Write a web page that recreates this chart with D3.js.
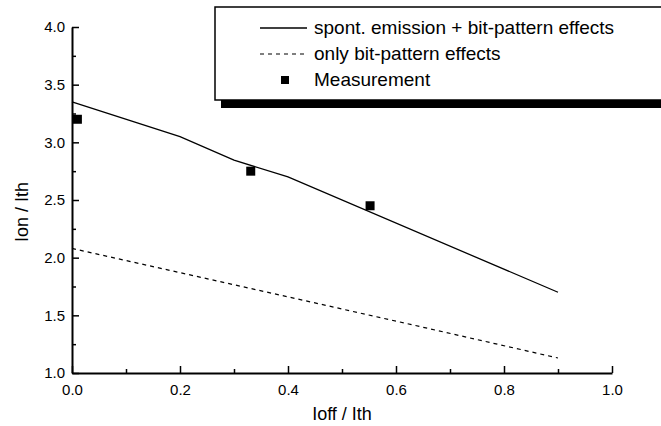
<!DOCTYPE html>
<html>
<head>
<meta charset="utf-8">
<script src="https://cdn.jsdelivr.net/npm/d3@7"></script>
<style>
  body { margin: 0; background: #fff; }
  svg { font-family: "Liberation Sans", Arial, sans-serif; }
</style>
</head>
<body>
<div id="chart"></div>
<script>
// Data
const spontX = [0, 0.2, 0.3, 0.4, 0.9];
const spontY = [3.35, 3.05, 2.845, 2.70, 1.70];
const bitX = [0, 0.2, 0.4, 0.6, 0.9];
const bitY = [2.08, 1.87, 1.66, 1.45, 1.13];
const measX = [0.01, 0.331, 0.552];
const measY = [3.20, 2.75, 2.45];
const xTicks = [0, 0.2, 0.4, 0.6, 0.8, 1.0];
const yTicks = [1.0, 1.5, 2.0, 2.5, 3.0, 3.5, 4.0];
const legendLabels = ["spont. emission + bit-pattern effects", "only bit-pattern effects", "Measurement"];

const width = 661, height = 426;
const margin = {top: 27, right: 49, bottom: 53, left: 72};

const svg = d3.select("#chart").append("svg")
    .attr("width", width)
    .attr("height", height);

// Scales
const xScale = d3.scaleLinear().domain([0, 1]).range([margin.left, width - margin.right]);
const yScale = d3.scaleLinear().domain([1, 4]).range([height - margin.bottom, margin.top]);

// Minor ticks (inward)
svg.append("g")
    .attr("transform", "translate(0," + (height - margin.bottom) + ")")
    .call(d3.axisBottom(xScale).tickValues(d3.range(0.1, 1, 0.2)).tickSize(-4).tickFormat(""))
    .call(g => g.select(".domain").remove())
    .selectAll("line").attr("stroke-width", 1.5);
svg.append("g")
    .attr("transform", "translate(" + margin.left + ",0)")
    .call(d3.axisLeft(yScale).tickValues(d3.range(1.25, 4, 0.5)).tickSize(-4).tickFormat(""))
    .call(g => g.select(".domain").remove())
    .selectAll("line").attr("stroke-width", 1.5);

// X axis
const xAxis = svg.append("g")
    .attr("transform", "translate(0," + (height - margin.bottom) + ")")
    .call(d3.axisBottom(xScale).tickValues(xTicks).tickSize(-7).tickSizeOuter(0).tickPadding(11).tickFormat(d3.format(".1f")));
xAxis.select(".domain").attr("stroke-width", 2);
xAxis.selectAll(".tick line").attr("stroke-width", 1.5);
xAxis.selectAll("text").attr("font-size", 15).attr("font-family", "Liberation Sans, Arial, sans-serif");

// Y axis
const yAxis = svg.append("g")
    .attr("transform", "translate(" + margin.left + ",0)")
    .call(d3.axisLeft(yScale).tickValues(yTicks).tickSize(-7).tickSizeOuter(0).tickPadding(7).tickFormat(d3.format(".1f")));
yAxis.select(".domain").attr("stroke-width", 2);
yAxis.selectAll(".tick line").attr("stroke-width", 1.5);
yAxis.selectAll("text").attr("font-size", 15).attr("font-family", "Liberation Sans, Arial, sans-serif");

// Axis titles
svg.append("text")
    .attr("x", xScale(0.5))
    .attr("y", 420)
    .attr("text-anchor", "middle")
    .attr("font-size", 18)
    .text("Ioff / Ith");
svg.append("text")
    .attr("transform", "translate(28," + 212 + ") rotate(-90)")
    .attr("text-anchor", "middle")
    .attr("font-size", 18)
    .text("Ion / Ith");

// Lines
const line = d3.line().x(d => xScale(d[0])).y(d => yScale(d[1]));
svg.append("path")
    .datum(d3.zip(spontX, spontY))
    .attr("d", line)
    .attr("fill", "none")
    .attr("stroke", "#000")
    .attr("stroke-width", 1.3);
svg.append("path")
    .datum(d3.zip(bitX, bitY))
    .attr("d", line)
    .attr("fill", "none")
    .attr("stroke", "#000")
    .attr("stroke-width", 1.2)
    .attr("stroke-dasharray", "4,4");

// Measurement points
svg.selectAll(".dot")
    .data(d3.zip(measX, measY))
    .enter().append("rect")
    .attr("class", "dot")
    .attr("x", d => xScale(d[0]) - 4.5)
    .attr("y", d => yScale(d[1]) - 4.5)
    .attr("width", 9)
    .attr("height", 9)
    .attr("fill", "#000");

// Legend with shadow
const legend = svg.append("g");
legend.append("rect")
    .attr("x", 221).attr("y", 13).attr("width", 480).attr("height", 95)
    .attr("fill", "#000");
legend.append("rect")
    .attr("x", 215).attr("y", 7).attr("width", 480).attr("height", 93)
    .attr("fill", "#fff").attr("stroke", "#000").attr("stroke-width", 1.5);

const rows = [28, 54, 80];
legend.append("line")
    .attr("x1", 260).attr("x2", 307).attr("y1", rows[0]).attr("y2", rows[0])
    .attr("stroke", "#000").attr("stroke-width", 1.3);
legend.append("line")
    .attr("x1", 260).attr("x2", 307).attr("y1", rows[1]).attr("y2", rows[1])
    .attr("stroke", "#000").attr("stroke-width", 1.2).attr("stroke-dasharray", "4,4");
legend.append("rect")
    .attr("x", 281).attr("y", rows[2] - 4).attr("width", 8).attr("height", 8)
    .attr("fill", "#000");

legend.selectAll(".lbl")
    .data(legendLabels)
    .enter().append("text")
    .attr("class", "lbl")
    .attr("x", 314)
    .attr("y", (d, i) => rows[i] + 6)
    .attr("font-size", 19)
    .text(d => d);
</script>
</body>
</html>
